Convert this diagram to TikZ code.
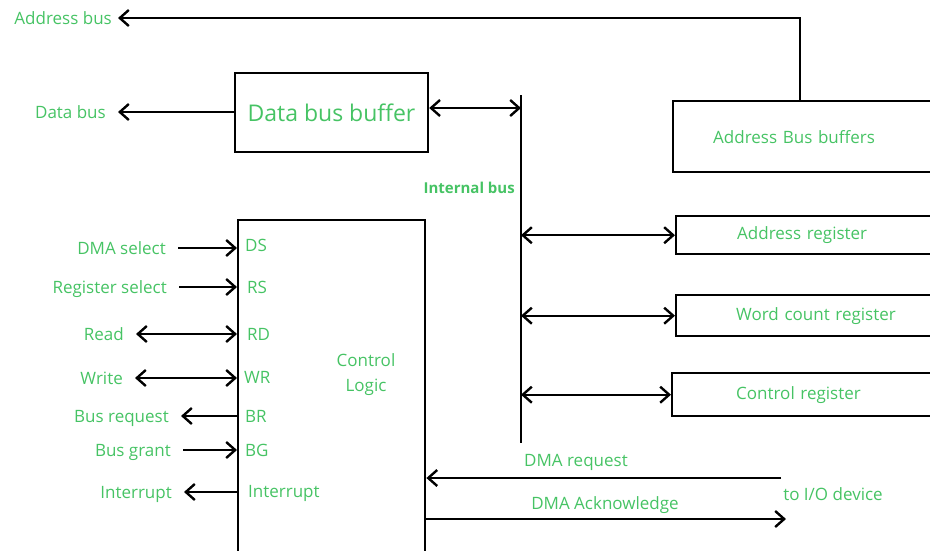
\documentclass[tikz,border=0pt]{standalone}
\usepackage{fontspec}
\setmainfont{Open Sans}
\usetikzlibrary{arrows.meta}
\definecolor{lbl}{RGB}{70,195,100}
\begin{document}
\begin{tikzpicture}[x=1pt,y=-1pt,
  wire/.style={line width=2.4pt, draw=black},
  tip/.style={-{Straight Barb[length=9pt,width=16pt]}},
  dtip/.style={{Straight Barb[length=9pt,width=16pt]}-{Straight Barb[length=9pt,width=16pt]}},
  box/.style={draw=black, line width=2.4pt, inner ysep=0pt, text=lbl, font=\fontsize{17}{20}\selectfont},
  txt/.style={text=lbl, font=\fontsize{17}{20}\selectfont, inner ysep=0pt, inner xsep=12pt, text height=12pt, text depth=0pt},
  pin/.style={text=lbl, font=\fontsize{17}{20}\selectfont, inner sep=0pt, anchor=west, text height=12pt, text depth=0pt}
]
\useasboundingbox (0,0) rectangle (930,550);
\clip (0,0) rectangle (930,550);

% top: address bus and data bus buffer
\node[txt, anchor=east, inner xsep=6pt] (ablbl) at (118,18) {Address bus};
\coordinate (abturn) at (800,18);
\node[box, anchor=north west, minimum height=71pt, text width=200pt, inner xsep=40pt, align=left] (abb) at (672,100) {Address Bus buffers};
\draw[wire, tip] (abb.north -| abturn) -- (abturn) -- (ablbl.east);

\node[box, minimum width=193pt, minimum height=79pt, font=\fontsize{23}{27}\selectfont] (dbb) at (331.5,112.5) {Data bus buffer};
\node[txt, anchor=east] (dblbl) at (118,112) {Data bus};
\draw[wire, tip] (dbb.west |- dblbl) -- (dblbl.east);

% internal bus
\coordinate (bustop) at (521,95);
\coordinate (busbot) at (521,443);
\draw[wire] (bustop) -- (busbot);
\coordinate (busdb) at (521,108);
\draw[wire, dtip] (busdb -| dbb.east) -- (busdb);
\node[text=lbl, font=\fontsize{15}{18}\selectfont\bfseries, inner sep=0pt, anchor=east] (iblbl) at (515,188) {Internal bus};

% registers
\node[box, anchor=north west, minimum height=38pt, text width=158pt, inner xsep=61pt, align=left] (ar) at (675,215) {Address register};
\node[box, anchor=north west, minimum height=41pt, text width=160pt, inner xsep=60pt, align=left] (wc) at (675,294) {Word count register};
\node[box, anchor=north west, minimum height=43pt, text width=156pt, inner xsep=64pt, align=left] (cr) at (671,372) {Control register};
\draw[wire, dtip] (ar.west -| bustop) -- (ar.west);
\draw[wire, dtip] (wc.west -| bustop) -- (wc.west);
\draw[wire, dtip] (cr.west -| bustop) -- (cr.west);

% control logic
\node[box, anchor=north west, minimum width=187pt, minimum height=360pt] (cl) at (237,219) {};
\node[text=lbl, font=\fontsize{17}{25}\selectfont, align=center, inner sep=0pt] (cltxt) at (366,375) {Control\\Logic};

% pins
\node[pin] (pds) at (245,245) {DS};
\node[pin] (prs) at (247,287) {RS};
\node[pin] (prd) at (247,334) {RD};
\node[pin] (pwr) at (244,377) {WR};
\node[pin] (pbr) at (245,416) {BR};
\node[pin] (pbg) at (245,450) {BG};
\node[pin] (pint) at (248,491) {Interrupt};

% external signals
\node[txt, anchor=east] (sds) at (178,248) {DMA select};
\node[txt, anchor=east] (srs) at (179,287) {Register select};
\node[txt, anchor=east] (srd) at (136,334) {Read};
\node[txt, anchor=east] (swr) at (135,378) {Write};
\node[txt, anchor=east] (sbr) at (181,416) {Bus request};
\node[txt, anchor=east] (sbg) at (183,450) {Bus grant};
\node[txt, anchor=east] (sint) at (184,492) {Interrupt};

\draw[wire, tip] (sds.east) -- (sds.east -| cl.west);
\draw[wire, tip] (srs.east) -- (srs.east -| cl.west);
\draw[wire, dtip] (srd.east) -- (srd.east -| cl.west);
\draw[wire, dtip] (swr.east) -- (swr.east -| cl.west);
\draw[wire, tip] (sbr.east -| cl.west) -- (sbr.east);
\draw[wire, tip] (sbg.east) -- (sbg.east -| cl.west);
\draw[wire, tip] (sint.east -| cl.west) -- (sint.east);

% DMA request / acknowledge
\coordinate (ioreq) at (781,478);
\coordinate (ioack) at (786,519);
\draw[wire, tip] (ioreq) -- (ioreq -| cl.east);
\draw[wire, tip] (ioack -| cl.east) -- (ioack);
\node[pin, anchor=center] (lreq) at (576,460) {DMA request};
\node[pin, anchor=center] (lack) at (605,503) {DMA Acknowledge};
\node[pin, anchor=center] (lio) at (833,494) {to I/O device};
\end{tikzpicture}
\end{document}
